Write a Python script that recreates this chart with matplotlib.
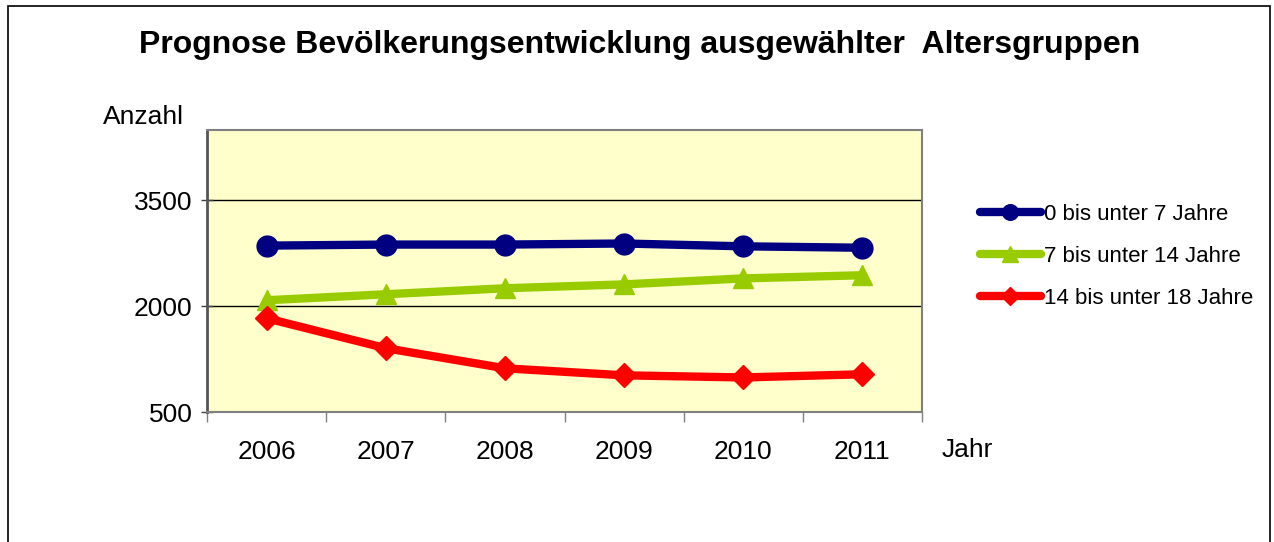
import matplotlib
matplotlib.use('Agg')
import matplotlib.pyplot as plt
from matplotlib.patches import Rectangle

# ── Data ──────────────────────────────────────────────────────────────────────

YEARS = ['2006', '2007', '2008', '2009', '2010', '2011']
AGE_0_7 = [2860, 2875, 2875, 2890, 2850, 2830]
AGE_7_14 = [2085, 2170, 2255, 2310, 2395, 2440]
AGE_14_18 = [1830, 1405, 1120, 1020, 990, 1035]
SERIES_LABELS = ['0 bis unter 7 Jahre', '7 bis unter 14 Jahre', '14 bis unter 18 Jahre']
Y_TICKS = [500, 2000, 3500]

TITLE = 'Prognose Bevölkerungsentwicklung ausgewählter  Altersgruppen'

# ── Style ─────────────────────────────────────────────────────────────────────

W, H = 1274, 542
plt.rcParams['font.family'] = ['Liberation Sans', 'DejaVu Sans']

fig = plt.figure(figsize=(W / 100, H / 100), dpi=100)
fig.patch.set_facecolor('white')

# outer chart frame
fig.patches.append(Rectangle((8 / W, -0.05), (1270 - 8) / W, 1.05 - 6 / H,
                             transform=fig.transFigure, fill=False,
                             edgecolor='black', linewidth=1.2))

ax = fig.add_axes([207 / W, 1 - 412 / H, (922 - 207) / W, (412 - 130) / H])
ax.set_facecolor('#FFFFCC')

x = range(len(YEARS))
styles = [
    (AGE_0_7, '#000080', 'o', 15),
    (AGE_7_14, '#99CC00', '^', 15),
    (AGE_14_18, '#FF0000', 'D', 12),
]
for (vals, color, marker, ms), label in zip(styles, SERIES_LABELS):
    ax.plot(x, vals, color=color, linewidth=6, marker=marker, markersize=ms,
            markeredgecolor=color, label=label, zorder=3, solid_capstyle='round')

ax.set_xlim(-0.5, len(YEARS) - 0.5)
ax.set_ylim(500, 4500)
ax.set_yticks(Y_TICKS)
ax.set_yticklabels([str(v) for v in Y_TICKS], fontsize=19)
ax.set_xticks(list(x))
ax.set_xticklabels(YEARS, fontsize=19)
ax.set_xticks([i - 0.5 for i in range(len(YEARS) + 1)], minor=True)
ax.tick_params(axis='x', which='major', length=0, pad=20)
ax.tick_params(axis='x', which='minor', length=7, width=1, color='#808080',
               direction='out')
ax.tick_params(axis='y', length=9, width=1, color='#404040', direction='inout', pad=6)

for y in Y_TICKS[1:]:
    ax.axhline(y, color='black', linewidth=1, zorder=1)

for side in ['top', 'right', 'bottom']:
    ax.spines[side].set_color('#808080')
    ax.spines[side].set_linewidth(1.5)
ax.spines['left'].set_color('#555555')
ax.spines['left'].set_linewidth(2)

fig.text(640 / W, 1 - 45 / H, TITLE, ha='center', va='center',
         fontsize=23, fontweight='bold')
fig.text(103 / W, 1 - 117 / H, 'Anzahl', ha='left', va='center', fontsize=19)
fig.text(942 / W, 1 - 450 / H, 'Jahr', ha='left', va='center', fontsize=19)

fig.legend(loc='upper left', bbox_to_anchor=(971 / W, 1 - 195 / H),
           frameon=False, fontsize=16, handlelength=2.75, handletextpad=0.15,
           labelspacing=0.94, markerscale=0.75, borderaxespad=0)

fig.savefig('out.png', dpi=100)
